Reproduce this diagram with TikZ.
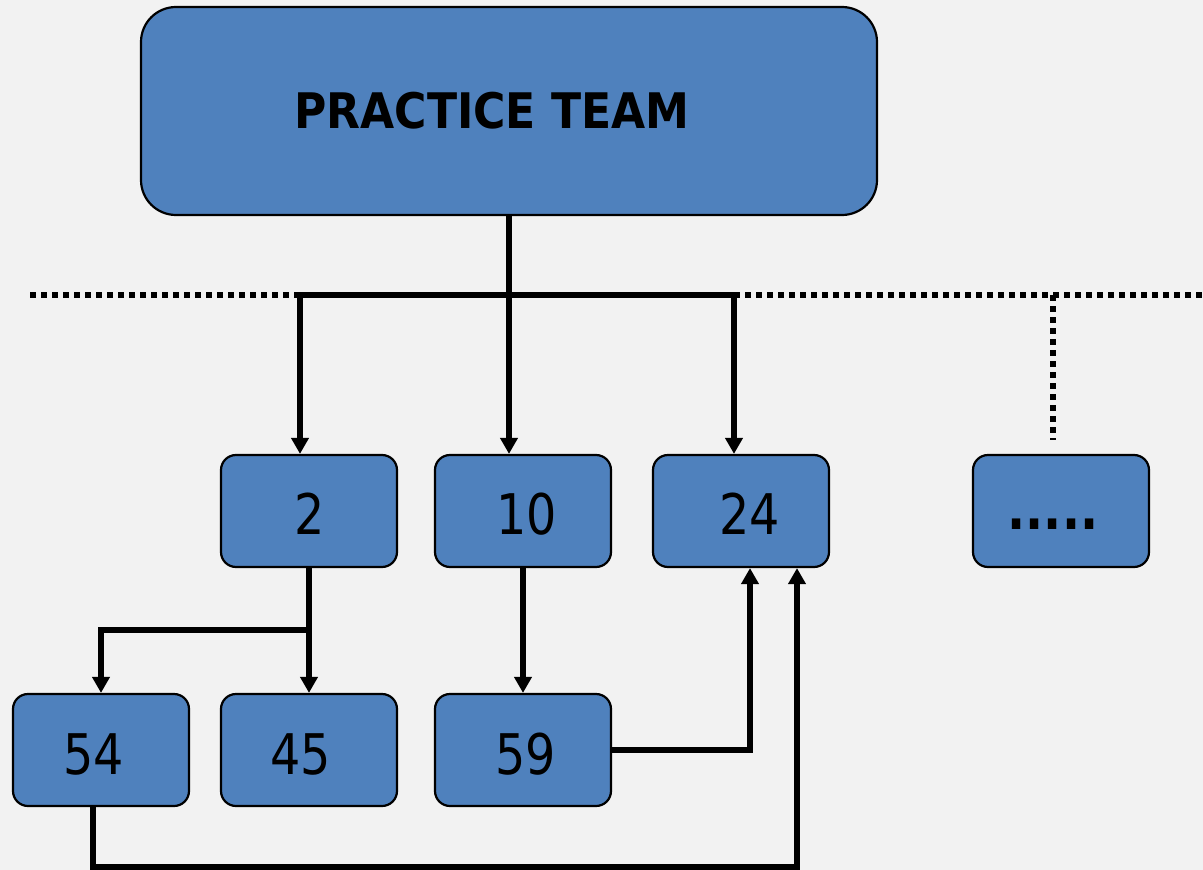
\documentclass[tikz,border=0pt]{standalone}
\usepackage{fontspec}
\setmainfont{DejaVu Sans}[FakeStretch=0.85]
\newfontfamily\titlefont{DejaVu Sans}[FakeStretch=0.9]
\usetikzlibrary{arrows.meta}
\definecolor{boxblue}{HTML}{4F81BD}
\definecolor{paper}{HTML}{F2F2F2}
\tikzset{
  box/.style={draw=black, line width=2.2pt, fill=boxblue, rounded corners=15pt,
    minimum width=176pt, minimum height=112pt, inner sep=0pt},
  topbox/.style={box, rounded corners=35pt, minimum width=736pt, minimum height=208pt},
  lbl/.style={inner sep=0pt, anchor=base, font=\fontsize{56}{64}\selectfont},
  ttl/.style={inner sep=0pt, anchor=base, font=\titlefont\fontsize{49}{58}\selectfont\bfseries},
  wire/.style={line width=5.5pt},
  arrow/.style={wire, -{Triangle[length=16pt,width=17pt]}},
  dotline/.style={line width=6pt, dash pattern=on 6pt off 5pt},
}
\begin{document}
\begin{tikzpicture}[x=1pt, y=-1pt]
  \fill[paper] (0,0) rectangle (1203,870);
  \useasboundingbox (0,0) rectangle (1203,870);

  % boxes
  \node[topbox] (top) at (509,111) {};
  \node[ttl] (title) at (492,128) {PRACTICE TEAM};

  \node[box] (n2)  at (309,511) {};
  \node[box] (n10) at (523,511) {};
  \node[box] (n24) at (741,511) {};
  \node[box] (more) at (1061,511) {};
  \node[box] (n54) at (101,750) {};
  \node[box] (n45) at (309,750) {};
  \node[box] (n59) at (523,750) {};

  \node[lbl] (t2)  at (310,534) {2};
  \node[lbl] (t10) at (527,534) {10};
  \node[lbl] (t24) at (750,534) {24};
  \node[lbl, font=\fontsize{56}{64}\selectfont\bfseries] (tm) at (1053,529) {.....};
  \node[lbl] (t54) at (94,774) {54};
  \node[lbl] (t45) at (301,774) {45};
  \node[lbl] (t59) at (526,774) {59};

  % bus line below the top box
  \coordinate (busL) at (300,295);
  \coordinate (busM) at (509,295);
  \coordinate (busR) at (734,295);
  \coordinate (dotL) at (30,295);
  \coordinate (dotR) at (1203,295);
  \coordinate (dotA) at (1053,295);
  \coordinate (dotB) at (1053,440);

  \draw[dotline] (dotL) -- (busL);
  \draw[dotline] (busR) -- (dotR);
  \draw[dotline] (dotA) -- (dotB);

  \draw[wire] (busL) -- (busR);
  \draw[arrow] (top.south -| busM) -- (busM |- n10.north);
  \draw[arrow] (busL) -- (busL |- n2.north);
  \draw[arrow] (busR) -- (busR |- n24.north);

  % lower connections
  \coordinate (fork) at (309,630);
  \draw[wire] (n2.south) -- (fork);
  \draw[arrow] (fork) -- (n45.north);
  \draw[arrow] (fork) -| (n54.north);
  \draw[arrow] (n10.south) -- (n59.north);
  \coordinate (r59) at (750,750);
  \draw[arrow] (n59.east) -- (r59) -- (r59 |- n24.south);
  \coordinate (b54) at (93,867);
  \coordinate (b24) at (797,867);
  \draw[arrow] (n54.south -| b54) -- (b54) -- (b24) -- (b24 |- n24.south);
\end{tikzpicture}
\end{document}
